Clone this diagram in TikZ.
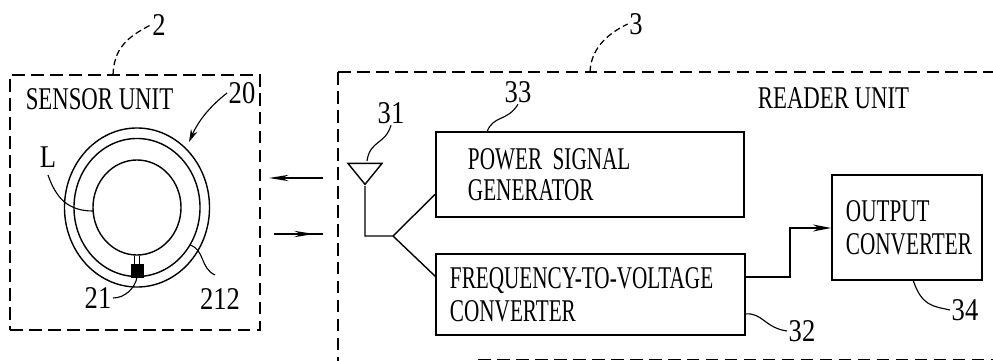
\documentclass[tikz,border=0pt]{standalone}
\usepackage{fontspec}
\setmainfont[FakeStretch=0.72]{Liberation Serif}
\newfontfamily\blockserif[FakeStretch=0.67]{Liberation Serif}
\newfontfamily\refserif[FakeStretch=0.84]{Liberation Serif}
\usepackage{tikz}
\usetikzlibrary{shapes.geometric, arrows.meta, calc}
\tikzset{
  % Box styles
  unitbox/.style={rectangle, draw, line width=1pt, dash pattern=on 9pt off 4.5pt},
  blockbox/.style={rectangle, draw, line width=1.2pt, align=left, font=\blockserif\blockfont, inner ysep=0pt},
  % Coil styles
  coilnode/.style={ellipse, draw, line width=1pt, inner sep=0pt},
  chipnode/.style={rectangle, draw, fill=black, inner sep=0pt, minimum width=0.3cm, minimum height=0.325cm},
  % Text styles
  titlenode/.style={font=\blockfont, inner sep=1pt},
  labelnode/.style={font=\refserif\blockfont, inner sep=1pt},
  % Arrow styles
  wire/.style={line width=1pt},
  leader/.style={line width=0.8pt},
  dashedleader/.style={line width=0.9pt, dash pattern=on 4.5pt off 2.5pt},
  arrow/.style={-{Stealth[length=14pt, width=4.5pt]}, line width=1pt}
}
\newcommand{\blockfont}{\fontsize{22.5}{23.5}\selectfont}

\begin{document}
\begin{tikzpicture}[x=0.025cm, y=-0.025cm]
  \useasboundingbox (0,0) rectangle (993,361);

  % Sensor unit
  \node[unitbox, minimum width=6.25cm, minimum height=6.375cm] (sensor_box) at (135,202.5) {};
  \node[titlenode] (sensor_title) at (99.5,99) {SENSOR UNIT};
  \node[labelnode] (ref_2) at (159,25) {2};
  \node[labelnode] (ref_20) at (242,93) {20};
  \node[labelnode] (ref_L) at (48,157) {L};
  \node[labelnode] (ref_21) at (98,298) {21};
  \node[labelnode] (ref_212) at (220,299) {212};

  \node[coilnode, minimum width=3.625cm, minimum height=3.975cm] (coil_outer) at (137,207.5) {};
  \node[coilnode, minimum width=3.15cm, minimum height=3.45cm] (coil_middle) at (137,207.5) {};
  \node[coilnode, minimum width=2.2cm, minimum height=2.375cm] (coil_inner) at (137,207.5) {};
  \node[chipnode] (chip) at (137,270.5) {};

  \draw[wire] ($(coil_inner.south)+(-2.5,0)$) -- ($(chip.north)+(-2.5,0)$);
  \draw[wire] ($(coil_inner.south)+(2.5,0)$) -- ($(chip.north)+(2.5,0)$);

  \coordinate (sensor_top) at (113,75);
  \coordinate (L_start) at (48,175);
  \coordinate (L_end) at (93,211);
  \coordinate (arrow_20) at (189,142);
  \coordinate (lead_212) at (190,245);
  \coordinate (end_212) at (215,275);
  \draw[dashedleader] (sensor_top) .. controls (114,50) and (125,38) .. (ref_2.west);
  \draw[leader] (L_start) .. controls (56,198) and (68,211) .. (L_end);
  \draw[-{Stealth[length=9pt, width=5pt]}, line width=0.8pt] (ref_20.west) .. controls (208,108) and (198,122) .. (arrow_20);
  \draw[leader] (chip.south) .. controls (135,288) and (125,298) .. (ref_21.east);
  \draw[leader] (lead_212) .. controls (205,250) and (200,268) .. (end_212);

  % Signals between units
  \coordinate (rx_start) at (323,178);
  \coordinate (rx_end) at (269,178);
  \coordinate (tx_start) at (274,234);
  \coordinate (tx_tip) at (314,234);
  \coordinate (tx_end) at (323,234);
  \draw[arrow] (rx_start) -- (rx_end);
  \draw[wire] (tx_start) -- (tx_end);
  \draw[arrow] (tx_start) -- (tx_tip);

  % Reader unit
  \coordinate (reader_tr) at (993,72);
  \coordinate (reader_tl) at (338,72);
  \coordinate (reader_bl) at (338,361);
  \coordinate (reader_bs) at (478,359.5);
  \coordinate (reader_br) at (993,359.5);
  \coordinate (reader_top) at (590,72);
  \draw[line width=1pt, dash pattern=on 9pt off 4.5pt] (reader_tl) -- (reader_tr);
  \draw[line width=1pt, dash pattern=on 9pt off 4.5pt] (reader_tl) -- (reader_bl);
  \draw[line width=1pt, dash pattern=on 9pt off 4.5pt] (reader_bs) -- (reader_br);
  \node[titlenode] (reader_title) at (833.5,98) {READER UNIT};
  \node[labelnode] (ref_3) at (636,24) {3};
  \node[labelnode] (ref_33) at (518,92) {33};
  \node[labelnode] (ref_31) at (391,113) {31};
  \node[labelnode] (ref_32) at (802,331) {32};
  \node[labelnode] (ref_34) at (965,310) {34};
  \draw[dashedleader] (reader_top) .. controls (591,50) and (605,35) .. (ref_3.west);

  \node[blockbox, minimum width=7.7cm, minimum height=2.125cm, text width=6.1cm, inner xsep=0.8cm] (power_box) at (590,174.5) {POWER SIGNAL\\[-1pt]GENERATOR};
  \node[blockbox, minimum width=7.725cm, minimum height=2.025cm, text width=7.025cm, inner xsep=0.35cm] (freq_box) at (590.5,294.5) {\mbox{FREQUENCY-TO-VOLTAGE}\\CONVERTER};
  \node[blockbox, minimum width=3.75cm, minimum height=2.625cm, text width=3.05cm, inner xsep=0.35cm] (output_box) at (907,227.5) {OUTPUT\\CONVERTER};

  % Antenna
  \node[isosceles triangle, shape border rotate=-90, isosceles triangle stretches, draw, line width=1pt, inner sep=0pt, minimum width=0.85cm, minimum height=0.525cm] (antenna) at (365,171.5) {};
  \coordinate (ant_corner) at (365,236);
  \coordinate (ant_fork) at (393,236);
  \coordinate (power_in) at (436,193.5);
  \coordinate (freq_in) at (436,277);
  \draw[wire] (antenna.south) -- (ant_corner) -- (ant_fork) -- (power_in);
  \draw[wire] (ant_fork) -- (freq_in);

  % Output connection
  \coordinate (freq_out) at (745,277);
  \coordinate (out_riser) at (790,277);
  \coordinate (out_top) at (790,228);
  \draw[-{Stealth[length=13pt, width=5pt]}, line width=1pt] (freq_out) -- (out_riser) -- (out_top) -- (output_box.west |- out_top);

  % Leaders
  \coordinate (lead_31) at (367,161);
  \coordinate (lead_33) at (487,132);
  \coordinate (lead_32) at (745,314);
  \coordinate (lead_34) at (913,280);
  \draw[leader] (lead_31) .. controls (370,140) and (385,145) .. (ref_31.south);
  \draw[leader] (lead_33) .. controls (493,115) and (507,122) .. (ref_33.south);
  \draw[leader] (lead_32) .. controls (762,312) and (765,328) .. (ref_32.west);
  \draw[leader] (lead_34) .. controls (922,306) and (932,306) .. (ref_34.west);
\end{tikzpicture}
\end{document}
